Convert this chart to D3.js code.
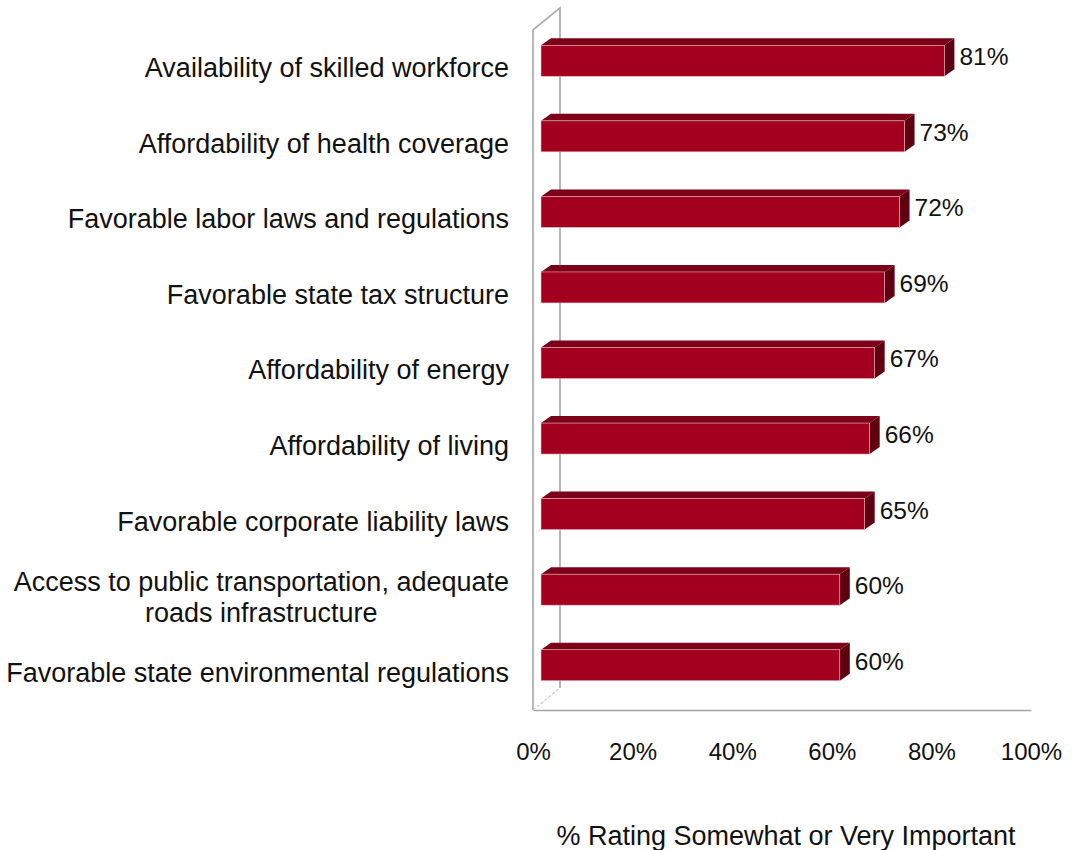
<!DOCTYPE html>
<html>
<head>
<meta charset="utf-8">
<script src="https://cdn.jsdelivr.net/npm/d3@7"></script>
<style>
  html, body { margin: 0; padding: 0; background: #fff; }
  svg { display: block; font-family: "Liberation Sans", Arial, sans-serif; }
</style>
</head>
<body>
<svg id="chart" width="1072" height="850"></svg>
<script>
// Survey items, top to bottom
const categories = [
  "Availability of skilled workforce",
  "Affordability of health coverage",
  "Favorable labor laws and regulations",
  "Favorable state tax structure",
  "Affordability of energy",
  "Affordability of living",
  "Favorable corporate liability laws",
  "Access to public transportation, adequate|roads infrastructure",
  "Favorable state environmental regulations"
];
const values = [81, 73, 72, 69, 67, 66, 65, 60, 60];
const tickValues = [0, 20, 40, 60, 80, 100];
const axisTitle = "% Rating Somewhat or Very Important";

const svg = d3.select("#chart");

// Front plane of the 3-D plot box
const plotLeft = 533, plotRight = 1031, plotTop = 30, plotBottom = 710;
// Depth of the box (projected offset of the back wall)
const depthX = 27, depthY = -22;
// Bars sit partway into the depth
const barOffX = 8, barOffY = -7, barDX = 10, barDY = -7;

const x = d3.scaleLinear().domain([0, 100]).range([plotLeft, plotRight]);
const y = d3.scaleBand().domain(categories).range([plotTop, plotBottom]);
const barH = 31;

// Walls / floor outline
const wall = svg.append("g").attr("fill", "none").attr("stroke", "#a6a6a6").attr("stroke-width", 1.6);
wall.append("path").attr("d", `M${plotLeft},${plotBottom}V${plotTop}L${plotLeft + depthX},${plotTop + depthY}V${plotBottom + depthY}`);
wall.append("line")
  .attr("x1", plotLeft).attr("y1", plotBottom).attr("x2", plotLeft + depthX).attr("y2", plotBottom + depthY)
  .attr("stroke", "#c8c8c8").attr("stroke-dasharray", "3,2").attr("stroke-width", 1.2);

// Horizontal value axis along the front edge of the floor
const axis = d3.axisBottom(x).tickValues(tickValues).tickSize(0).tickFormat(d => d + "%");
const ax = svg.append("g").attr("transform", `translate(0,${plotBottom})`).call(axis);
ax.select(".domain").attr("stroke", "#a6a6a6").attr("stroke-width", 1.6);
ax.selectAll(".tick text")
  .attr("dy", 0).attr("y", 50)
  .attr("font-size", 24).attr("fill", "#111")
  .attr("font-family", "Liberation Sans, Arial, sans-serif");

// Bars: front, top and side faces
const bars = svg.append("g").selectAll("g").data(categories).join("g");
bars.each(function (c, i) {
  const g = d3.select(this);
  const x0 = x(0) + barOffX;
  const x1 = x(values[i]) + barOffX;
  const yc = y(c) + y.bandwidth() / 2 + barOffY;
  const y0 = yc - barH / 2, y1 = yc + barH / 2;
  // top face
  g.append("path")
    .attr("d", `M${x0},${y0}L${x0 + barDX},${y0 + barDY}H${x1 + barDX}L${x1},${y0}Z`)
    .attr("fill", "#7c0017");
  // side face
  g.append("path")
    .attr("d", `M${x1},${y0}L${x1 + barDX},${y0 + barDY}V${y1 + barDY}L${x1},${y1}Z`)
    .attr("fill", "#5f0010");
  // front face
  g.append("rect")
    .attr("x", x0).attr("y", y0).attr("width", x1 - x0).attr("height", barH)
    .attr("fill", "#a3001f").attr("stroke", "#e8b9c2").attr("stroke-width", 0.6);
  // value label
  g.append("text")
    .attr("x", x1 + barDX + 5).attr("y", yc - 2)
    .attr("dominant-baseline", "middle")
    .attr("font-size", 24.5).attr("fill", "#111")
    .text(values[i] + "%");
});

// Category labels, right-aligned against the plot; wrapped lines centred
const labels = svg.append("g").selectAll("text").data(categories).join("text")
  .attr("font-size", 27).attr("fill", "#111");
labels.each(function (c) {
  const t = d3.select(this);
  const lines = c.split("|");
  const yc = y(c) + y.bandwidth() / 2;
  const lh = 31;
  const y0 = yc - (lines.length - 1) * lh / 2;
  const spans = lines.map((l, k) => t.append("tspan").attr("y", y0 + k * lh).attr("dy", "0.35em").text(l));
  const widths = spans.map(s => s.node().getComputedTextLength());
  const w = d3.max(widths);
  const rightEdge = 509;
  spans.forEach(s => {
    s.attr("x", rightEdge - w / 2).attr("text-anchor", "middle");
  });
});

// Axis title
svg.append("text")
  .attr("x", 786).attr("y", 845)
  .attr("text-anchor", "middle")
  .attr("font-size", 27).attr("fill", "#111")
  .text(axisTitle);
</script>
</body>
</html>
